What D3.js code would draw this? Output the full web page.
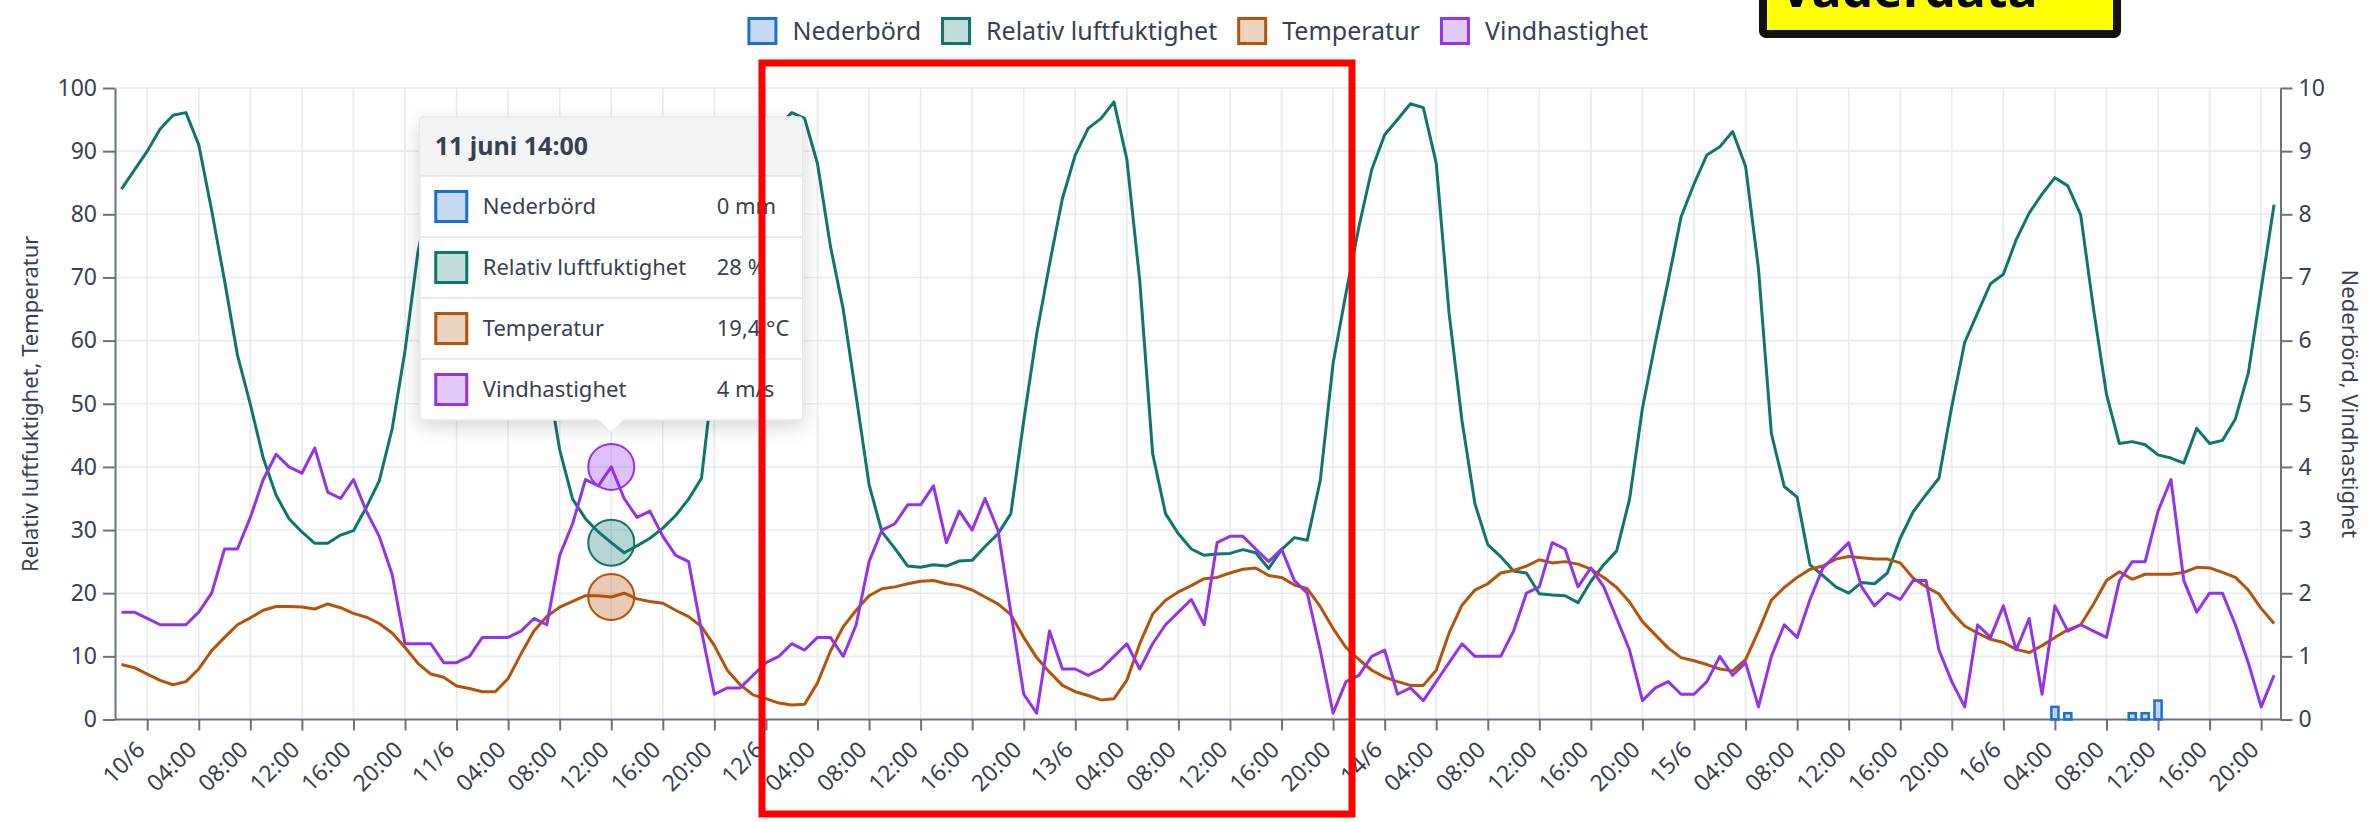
<!DOCTYPE html>
<html>
<head>
<meta charset="utf-8">
<script src="https://cdn.jsdelivr.net/npm/d3@7/dist/d3.min.js"></script>
<style>
  body { margin: 0; background: #fff; }
  svg  { display: block; font-family: "Noto Sans", "Open Sans", sans-serif; }
</style>
</head>
<body>
<div id="chart"></div>
<script>
///////////////////////////////////////////////////////////////////////////
//   VÄDERDATA - hourly weather, 9/6 22:00 -> 16/6 21:00
///////////////////////////////////////////////////////////////////////////

// Hourly values, one line per day (first line = 9/6 22-23, last = 16/6 00-21)
var humidity = [
  84, 87,
  90, 93.5, 95.7, 96.1, 91, 80.6, 69.5, 57.7, 49.9, 41.4, 35.5, 31.8, 29.7, 27.9, 27.9, 29.2, 29.9, 33.6, 37.8, 46, 58.4, 74, 84, 89,
  92, 94, 94.5, 94, 90, 82, 70, 55, 42.7, 34.9, 31.8, 29.7, 28, 26.4, 27.5, 28.7, 30.3, 32.3, 34.9, 38.2, 56, 70, 80, 87,
  91, 94, 96.1, 95.2, 88, 75, 64.9, 51.2, 37.2, 29.7, 27.1, 24.3, 24.1, 24.5, 24.3, 25.1, 25.2, 27.4, 29.4, 32.6, 47.3, 61, 72.1, 82.5,
  89.4, 93.6, 95.2, 97.8, 88.7, 69.5, 42.1, 32.6, 29.4, 27, 26, 26.2, 26.3, 26.9, 26.4, 23.9, 26.9, 28.8, 28.4, 37.8, 56.4, 67.5, 78, 87.1,
  92.6, 95, 97.5, 96.9, 88.1, 64.3, 47.3, 34.2, 27.7, 25.8, 23.5, 23.2, 19.9, 19.7, 19.6, 18.5, 21.9, 24.5, 26.7, 34.9, 49.3, 59.7, 69.5, 79.6,
  84.8, 89.4, 90.7, 93.1, 87.6, 71.4, 45.3, 36.9, 35.2, 24.5, 22.8, 21, 20, 21.7, 21.5, 23.2, 28.7, 32.9, 35.6, 38.2, 49.6, 59.7, 64.4, 69,
  70.5, 76, 80.2, 83.2, 85.8, 84.5, 79.9, 64.9, 51.5, 43.7, 44, 43.5, 41.9, 41.4, 40.6, 46.1, 43.7, 44.2, 47.6, 54.8, 68.2, 81.5
]
var temperature = [
  8.7, 8.2,
  7.2, 6.2, 5.5, 6.0, 8.0, 10.9, 13.0, 15.0, 16.1, 17.3, 17.9, 17.9, 17.8, 17.5, 18.3, 17.7, 16.8, 16.2, 15.2, 13.7, 11.4, 8.9, 7.2, 6.7,
  5.3, 4.9, 4.4, 4.4, 6.5, 10.4, 14.0, 16.3, 17.8, 18.7, 19.6, 19.6, 19.4, 20.0, 19.1, 18.7, 18.4, 17.3, 16.3, 14.7, 11.7, 7.8, 5.5, 3.9,
  3.3, 2.6, 2.3, 2.4, 5.8, 10.8, 14.7, 17.3, 19.6, 20.7, 21.0, 21.5, 21.9, 22.0, 21.5, 21.2, 20.5, 19.4, 18.3, 16.6, 13.0, 9.8, 7.5, 5.4,
  4.4, 3.8, 3.1, 3.3, 6.2, 12.0, 16.7, 18.9, 20.2, 21.2, 22.3, 22.5, 23.2, 23.8, 24.0, 22.8, 22.5, 21.3, 20.7, 17.9, 14.4, 11.4, 9.5, 7.8,
  6.7, 6.0, 5.4, 5.4, 7.8, 13.7, 18.1, 20.5, 21.5, 23.2, 23.6, 24.3, 25.3, 24.8, 25.0, 24.6, 23.8, 22.5, 20.9, 18.6, 15.5, 13.4, 11.3, 9.8,
  9.3, 8.7, 8.0, 7.7, 9.5, 14.0, 18.9, 20.9, 22.5, 23.8, 24.3, 25.4, 25.8, 25.6, 25.4, 25.4, 24.8, 22.4, 21.0, 19.9, 17.0, 14.8, 13.7, 12.7,
  12.2, 11.1, 10.6, 11.7, 13.0, 14.2, 15.0, 18.3, 22.0, 23.4, 22.2, 23.0, 23.0, 23.0, 23.3, 24.1, 24.0, 23.3, 22.5, 20.5, 17.6, 15.2
]
var wind = [
  1.7, 1.7,
  1.6, 1.5, 1.5, 1.5, 1.7, 2.0, 2.7, 2.7, 3.2, 3.8, 4.2, 4.0, 3.9, 4.3, 3.6, 3.5, 3.8, 3.3, 2.9, 2.3, 1.2, 1.2, 1.2, 0.9,
  0.9, 1.0, 1.3, 1.3, 1.3, 1.4, 1.6, 1.5, 2.6, 3.1, 3.8, 3.7, 4.0, 3.5, 3.2, 3.3, 2.9, 2.6, 2.5, 1.4, 0.4, 0.5, 0.5, 0.7,
  0.9, 1.0, 1.2, 1.1, 1.3, 1.3, 1.0, 1.5, 2.5, 3.0, 3.1, 3.4, 3.4, 3.7, 2.8, 3.3, 3.0, 3.5, 3.0, 1.7, 0.4, 0.1, 1.4, 0.8,
  0.8, 0.7, 0.8, 1.0, 1.2, 0.8, 1.2, 1.5, 1.7, 1.9, 1.5, 2.8, 2.9, 2.9, 2.7, 2.5, 2.7, 2.2, 2.0, 1.1, 0.1, 0.6, 0.7, 1.0,
  1.1, 0.4, 0.5, 0.3, 0.6, 0.9, 1.2, 1.0, 1.0, 1.0, 1.4, 2.0, 2.1, 2.8, 2.7, 2.1, 2.4, 2.1, 1.6, 1.1, 0.3, 0.5, 0.6, 0.4,
  0.4, 0.6, 1.0, 0.7, 0.9, 0.2, 1.0, 1.5, 1.3, 1.9, 2.4, 2.6, 2.8, 2.1, 1.8, 2.0, 1.9, 2.2, 2.2, 1.1, 0.6, 0.2, 1.5, 1.3,
  1.8, 1.1, 1.6, 0.4, 1.8, 1.4, 1.5, 1.4, 1.3, 2.2, 2.5, 2.5, 3.3, 3.8, 2.2, 1.7, 2.0, 2.0, 1.5, 0.9, 0.2, 0.7
]
// Precipitation only on a few hours
var rainTimes = ["2024-06-16 04:00", "2024-06-16 05:00", "2024-06-16 10:00", "2024-06-16 11:00", "2024-06-16 12:00"]
var rainMm    = [0.2, 0.1, 0.1, 0.1, 0.3]

var seriesNames = ["Nederbörd", "Relativ luftfuktighet", "Temperatur", "Vindhastighet"]
var seriesUnits = ["mm", "%", "°C", "m/s"]

// Colours
var c_rain  = "#1c6fd1"
var c_hum   = "#0f766e"
var c_temp  = "#b45309"
var c_wind  = "#9333ea"
var c_text  = "#374151"
var c_grid  = "#e8ebef"
var c_axis  = "#6b7280"

// Hovered hour (axis time 11/6 12:00, shown as local time in the tooltip)
var tipIdx = 38

// Time axis
var start = new Date(2024, 5, 9, 22)
var times = d3.timeHours(start, new Date(2024, 5, 16, 22))
var parseRain = d3.timeParse("%Y-%m-%d %H:%M")
var rain = rainTimes.map((t, i) => ({t: parseRain(t), v: rainMm[i]}))

// Plot box
var pLeft = 115, pRight = 2280.5, pTop = 88, pBottom = 719.5

var x = d3.scaleTime()
    .domain([d3.timeMinute.offset(times[0], -30), d3.timeMinute.offset(times[times.length - 1], 30)])
    .range([pLeft, pRight])
var y  = d3.scaleLinear().domain([0, 100]).range([pBottom, pTop])
var yR = d3.scaleLinear().domain([0, 10]).range([pBottom, pTop])

var svg = d3.select("#chart").append("svg")
    .attr("width", 2369)
    .attr("height", 822)

var defs = svg.append("defs")
defs.append("filter").attr("id", "shadow")
    .attr("x", "-20%").attr("y", "-20%").attr("width", "140%").attr("height", "150%")
  .append("feDropShadow")
    .attr("dx", 0).attr("dy", 6).attr("stdDeviation", 9)
    .attr("flood-color", "#000").attr("flood-opacity", 0.16)

// Grid
var tickTimes = d3.timeHours(new Date(2024, 5, 10, 0), new Date(2024, 5, 16, 22), 4)
var grid = svg.append("g")
grid.selectAll(".gx").data(tickTimes).enter().append("line")
    .attr("x1", d => x(d)).attr("x2", d => x(d))
    .attr("y1", pTop).attr("y2", pBottom)
    .attr("stroke", c_grid).attr("stroke-width", 1.6)
grid.selectAll(".gy").data(d3.range(10, 101, 10)).enter().append("line")
    .attr("x1", pLeft).attr("x2", pRight)
    .attr("y1", d => y(d)).attr("y2", d => y(d))
    .attr("stroke", c_grid).attr("stroke-width", 1.6)

// Axes
var fmtDay  = d3.timeFormat("%-d/%-m")
var fmtHour = d3.timeFormat("%H:%M")

var gx = svg.append("g")
    .attr("transform", `translate(0,${pBottom})`)
    .call(d3.axisBottom(x).tickValues(tickTimes).tickSize(11).tickSizeOuter(0)
        .tickFormat(d => d.getHours() == 0 ? fmtDay(d) : fmtHour(d)))
gx.selectAll("text")
    .attr("x", 0).attr("y", 0).attr("dy", "0.35em")
    .attr("text-anchor", "end")
    .attr("transform", "translate(-7,26) rotate(-45)")

var gyL = svg.append("g")
    .attr("transform", `translate(${pLeft},0)`)
    .call(d3.axisLeft(y).tickValues(d3.range(0, 101, 10)).tickSize(12).tickPadding(6).tickSizeOuter(0))
var gyR = svg.append("g")
    .attr("transform", `translate(${pRight},0)`)
    .call(d3.axisRight(yR).tickValues(d3.range(0, 11, 1)).tickSize(12).tickPadding(6).tickSizeOuter(0))

;[gx, gyL, gyR].forEach(g => {
    g.select(".domain").attr("stroke", c_axis).attr("stroke-width", 2)
    g.selectAll(".tick line").attr("stroke", c_axis).attr("stroke-width", 2)
    g.selectAll("text").attr("fill", c_text).style("font-size", "23px")
        .style("font-family", "'Noto Sans', 'Open Sans', sans-serif")
})
// bottom axis runs the full width
gx.select(".domain").attr("d", `M${pLeft},0H${pRight}`)

// Axis titles
svg.append("text")
    .attr("transform", `translate(30,${(pTop + pBottom) / 2}) rotate(-90)`)
    .attr("text-anchor", "middle").attr("dy", "0.35em")
    .attr("fill", c_text).style("font-size", "22px")
    .text("Relativ luftfuktighet, Temperatur")
svg.append("text")
    .attr("transform", `translate(2350,${(pTop + pBottom) / 2}) rotate(90)`)
    .attr("text-anchor", "middle").attr("dy", "0.35em")
    .attr("fill", c_text).style("font-size", "22px")
    .text("Nederbörd, Vindhastighet")

// Precipitation bars
var barW = (x(d3.timeHour.offset(start, 1)) - x(start)) * 0.55
svg.append("g").selectAll("rect").data(rain).enter().append("rect")
    .attr("x", d => x(d.t) - barW / 2)
    .attr("width", barW)
    .attr("y", d => yR(d.v))
    .attr("height", d => yR(0) - yR(d.v))
    .attr("fill", c_rain).attr("fill-opacity", 0.25)
    .attr("stroke", c_rain).attr("stroke-width", 2.5)

// Lines
function drawLine(values, scale, color) {
    var line = d3.line().x((d, i) => x(times[i])).y(d => scale(d))
    svg.append("path").datum(values)
        .attr("d", line)
        .attr("fill", "none")
        .attr("stroke", color)
        .attr("stroke-width", 3)
        .attr("stroke-linejoin", "round")
}
drawLine(humidity,    y,  c_hum)
drawLine(temperature, y,  c_temp)
drawLine(wind,        yR, c_wind)

// Hover markers
var tx = x(times[tipIdx])
var hover = [
    {v: wind[tipIdx],        s: yR, c: c_wind},
    {v: humidity[tipIdx],    s: y,  c: c_hum},
    {v: temperature[tipIdx], s: y,  c: c_temp}
]
svg.append("g").selectAll("circle").data(hover).enter().append("circle")
    .attr("cx", tx).attr("cy", d => d.s(d.v)).attr("r", 23)
    .attr("fill", d => d.c).attr("fill-opacity", 0.3)
    .attr("stroke", d => d.c).attr("stroke-width", 2)

// Tooltip
var sv = d3.formatLocale({decimal: ",", thousands: "\u00a0", grouping: [3], currency: ["", " kr"]})
var fmtNum = sv.format("~g")
var rainAtTip = rain.find(d => +d.t == +times[tipIdx])
var tipValues = [rainAtTip ? rainAtTip.v : 0, humidity[tipIdx], temperature[tipIdx], wind[tipIdx]]
var tipColors = [c_rain, c_hum, c_temp, c_wind]
var tipTitle = d3.timeFormat("%-d juni %H:%M")(d3.timeHour.offset(times[tipIdx], 2))

var tipW = 383, tipTop = 117, headH = 59, rowH = 61
var tipL = tx - tipW / 2
var tipH = headH + rowH * 4
var tip = svg.append("g")
tip.append("rect")
    .attr("x", tipL).attr("y", tipTop).attr("width", tipW).attr("height", tipH)
    .attr("rx", 4).attr("fill", "#fff").attr("stroke", "#e5e7eb").attr("stroke-width", 1.5)
    .attr("filter", "url(#shadow)")
tip.append("path")
    .attr("d", `M${tx - 13},${tipTop + tipH - 1} L${tx},${tipTop + tipH + 12} L${tx + 13},${tipTop + tipH - 1} Z`)
    .attr("fill", "#fff")
tip.append("path")
    .attr("d", `M${tipL + 1},${tipTop + headH} V${tipTop + 4} Q${tipL + 1},${tipTop + 1} ${tipL + 4},${tipTop + 1} H${tipL + tipW - 4} Q${tipL + tipW - 1},${tipTop + 1} ${tipL + tipW - 1},${tipTop + 4} V${tipTop + headH} Z`)
    .attr("fill", "#f3f4f6")
tip.append("text")
    .attr("x", tipL + 15).attr("y", tipTop + headH / 2).attr("dy", "0.35em")
    .attr("fill", c_text).style("font-size", "25px").style("font-weight", "700")
    .text(tipTitle)
seriesNames.forEach((name, i) => {
    var ry = tipTop + headH + i * rowH
    tip.append("line")
        .attr("x1", tipL + 1).attr("x2", tipL + tipW - 1)
        .attr("y1", ry).attr("y2", ry)
        .attr("stroke", "#dfe3e8").attr("stroke-width", 1.5)
    tip.append("rect")
        .attr("x", tipL + 16).attr("y", ry + rowH / 2 - 15).attr("width", 31).attr("height", 30)
        .attr("fill", tipColors[i]).attr("fill-opacity", 0.25)
        .attr("stroke", tipColors[i]).attr("stroke-width", 3)
    tip.append("text")
        .attr("x", tipL + 63).attr("y", ry + rowH / 2).attr("dy", "0.35em")
        .attr("fill", c_text).style("font-size", "22px")
        .text(name)
    tip.append("text")
        .attr("x", tipL + 297).attr("y", ry + rowH / 2).attr("dy", "0.35em")
        .attr("fill", c_text).style("font-size", "22px")
        .text(fmtNum(tipValues[i]) + " " + seriesUnits[i])
})

// Legend
var legend = svg.append("g")
var lx = 0
seriesNames.forEach((name, i) => {
    var g = legend.append("g").attr("transform", `translate(${lx},0)`)
    g.append("rect")
        .attr("x", 1.5).attr("y", 18.5).attr("width", 27).attr("height", 25)
        .attr("fill", tipColors[i]).attr("fill-opacity", 0.25)
        .attr("stroke", tipColors[i]).attr("stroke-width", 3)
    var t = g.append("text")
        .attr("x", 45).attr("y", 31).attr("dy", "0.35em")
        .attr("fill", c_text).style("font-size", "25px")
        .text(name)
    lx += 45 + t.node().getComputedTextLength() + 20
})
var legendW = lx - 20
legend.attr("transform", `translate(${(pLeft + pRight) / 2 - legendW / 2},0)`)

// Annotation: red frame
svg.append("rect")
    .attr("x", 762).attr("y", 63).attr("width", 590).attr("height", 751)
    .attr("fill", "none").attr("stroke", "#ff0000").attr("stroke-width", 7)

// Annotation: yellow title box (cut at the top edge)
svg.append("rect")
    .attr("x", 1763).attr("y", -40).attr("width", 354).attr("height", 74)
    .attr("rx", 3)
    .attr("fill", "#ffff00").attr("stroke", "#111").attr("stroke-width", 8)
svg.append("text")
    .attr("x", 1780).attr("y", 7)
    .attr("fill", "#000").style("font-size", "50px").style("font-weight", "700")
    .text("Väderdata")
</script>
</body>
</html>
